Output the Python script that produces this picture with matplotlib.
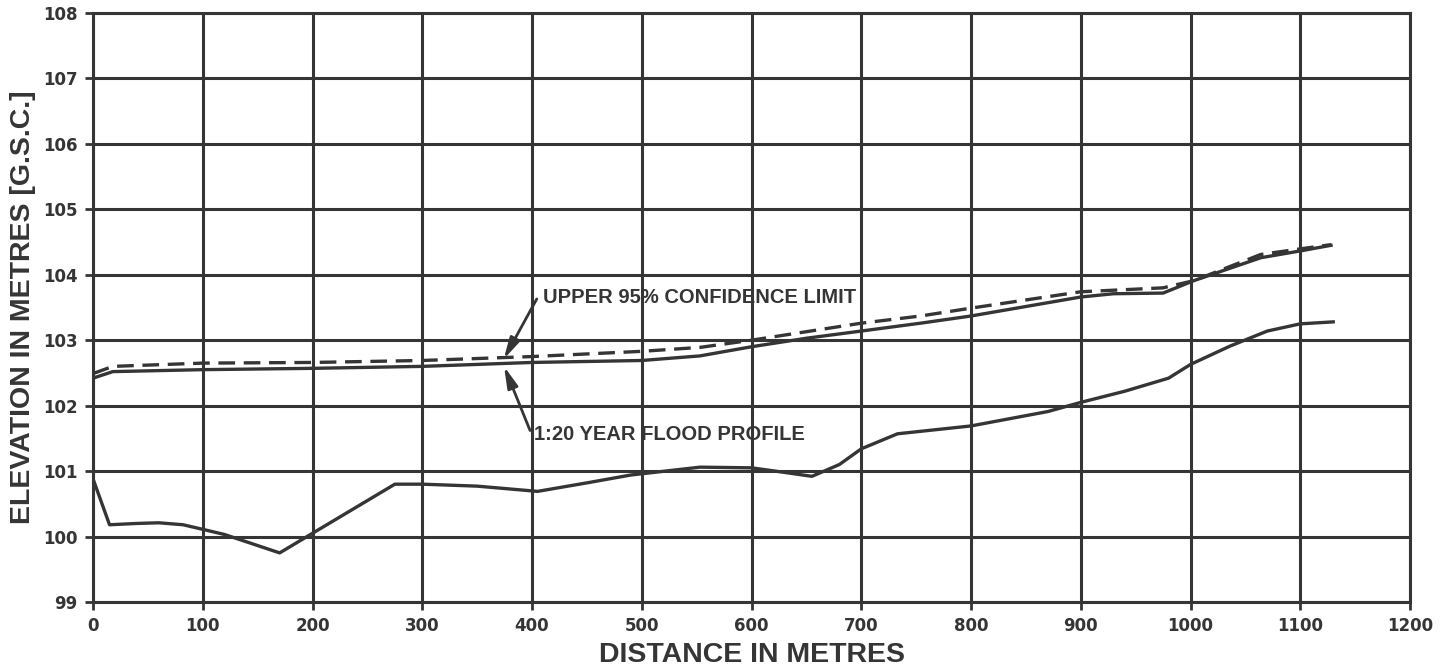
import matplotlib
matplotlib.use("Agg")
import matplotlib.pyplot as plt

# River bed profile
bed_x = [0, 15, 40, 60, 82, 100, 120, 170, 275, 300, 350, 405, 450, 490,
         553, 600, 630, 655, 680, 700, 733, 800, 870, 900, 940, 980, 1000,
         1036, 1070, 1100, 1130]
bed_y = [100.88, 100.18, 100.20, 100.21, 100.18, 100.11, 100.03, 99.75,
         100.80, 100.80, 100.77, 100.69, 100.82, 100.94, 101.06, 101.05,
         100.98, 100.92, 101.10, 101.34, 101.57, 101.69, 101.91, 102.05,
         102.22, 102.42, 102.63, 102.91, 103.14, 103.25, 103.28]

# 1:20 year flood profile
flood_x = [0, 18, 100, 200, 300, 400, 500, 553, 600, 650, 700, 754, 800,
           900, 930, 975, 1003, 1064, 1102, 1128]
flood_y = [102.42, 102.52, 102.55, 102.57, 102.60, 102.66, 102.69, 102.76,
           102.90, 103.03, 103.14, 103.26, 103.37, 103.66, 103.71, 103.72,
           103.91, 104.26, 104.37, 104.45]

# Upper 95% confidence limit
conf_x = [0, 18, 100, 200, 300, 400, 500, 553, 600, 700, 754, 800, 900,
          975, 1003, 1064, 1102, 1128]
conf_y = [102.49, 102.60, 102.65, 102.66, 102.69, 102.75, 102.83, 102.89,
          103.00, 103.26, 103.37, 103.49, 103.74, 103.80, 103.91, 104.31,
          104.40, 104.46]

x_ticks = list(range(0, 1201, 100))
y_ticks = list(range(99, 109))

ink = "#353535"
label_font = ["Liberation Sans", "DejaVu Sans"]
plt.rcParams["font.family"] = ["DejaVu Sans"]
plt.rcParams["font.weight"] = "bold"

fig = plt.figure(figsize=(14.45, 6.72), dpi=100)
ax = fig.add_axes([0.0644, 0.1042, 0.9114, 0.8765])

ax.set_xlim(0, 1200)
ax.set_ylim(99, 108)
ax.set_xticks(x_ticks)
ax.set_yticks(y_ticks)
ax.set_xticklabels([str(v) for v in x_ticks], fontsize=12, fontweight="bold", color=ink)
ax.set_yticklabels([str(v) for v in y_ticks], fontsize=12, fontweight="bold", color=ink)
ax.tick_params(axis="both", direction="out", length=6, width=2, color=ink, pad=5)

ax.grid(True, color=ink, linewidth=2.2)
ax.set_axisbelow(True)
for s in ax.spines.values():
    s.set_color(ink)
    s.set_linewidth(2.2)

ax.plot(bed_x, bed_y, color=ink, linewidth=2.4, solid_joinstyle="round")
ax.plot(flood_x, flood_y, color=ink, linewidth=2.4, solid_joinstyle="round")
ax.plot(conf_x, conf_y, color=ink, linewidth=2.4, linestyle=(0, (5, 2.6)))

# Label arrows, then the label texts
arrow = dict(arrowstyle="-|>,head_length=0.8,head_width=0.2", color=ink, lw=2,
             mutation_scale=16, shrinkA=0, shrinkB=0)
ax.annotate("", xy=(374.2, 102.71), xytext=(404.3, 103.63), arrowprops=arrow)
ax.annotate("", xy=(374.5, 102.60), xytext=(398.2, 101.62), arrowprops=arrow)

ax.text(410, 103.66, "UPPER 95% CONFIDENCE LIMIT", fontsize=14.5, family=label_font,
        fontweight="bold", color=ink, ha="left", va="center")
ax.text(402, 101.56, "1:20 YEAR FLOOD PROFILE", fontsize=14.5, family=label_font,
        fontweight="bold", color=ink, ha="left", va="center")

ax.set_xlabel("DISTANCE IN METRES", fontsize=20.5, family=label_font,
              fontweight="bold", color=ink, labelpad=5)
ax.set_ylabel("ELEVATION IN METRES [G.S.C.]", fontsize=20.5, family=label_font,
              fontweight="bold", color=ink, labelpad=5)

fig.savefig("out.png", dpi=100, facecolor="white")
